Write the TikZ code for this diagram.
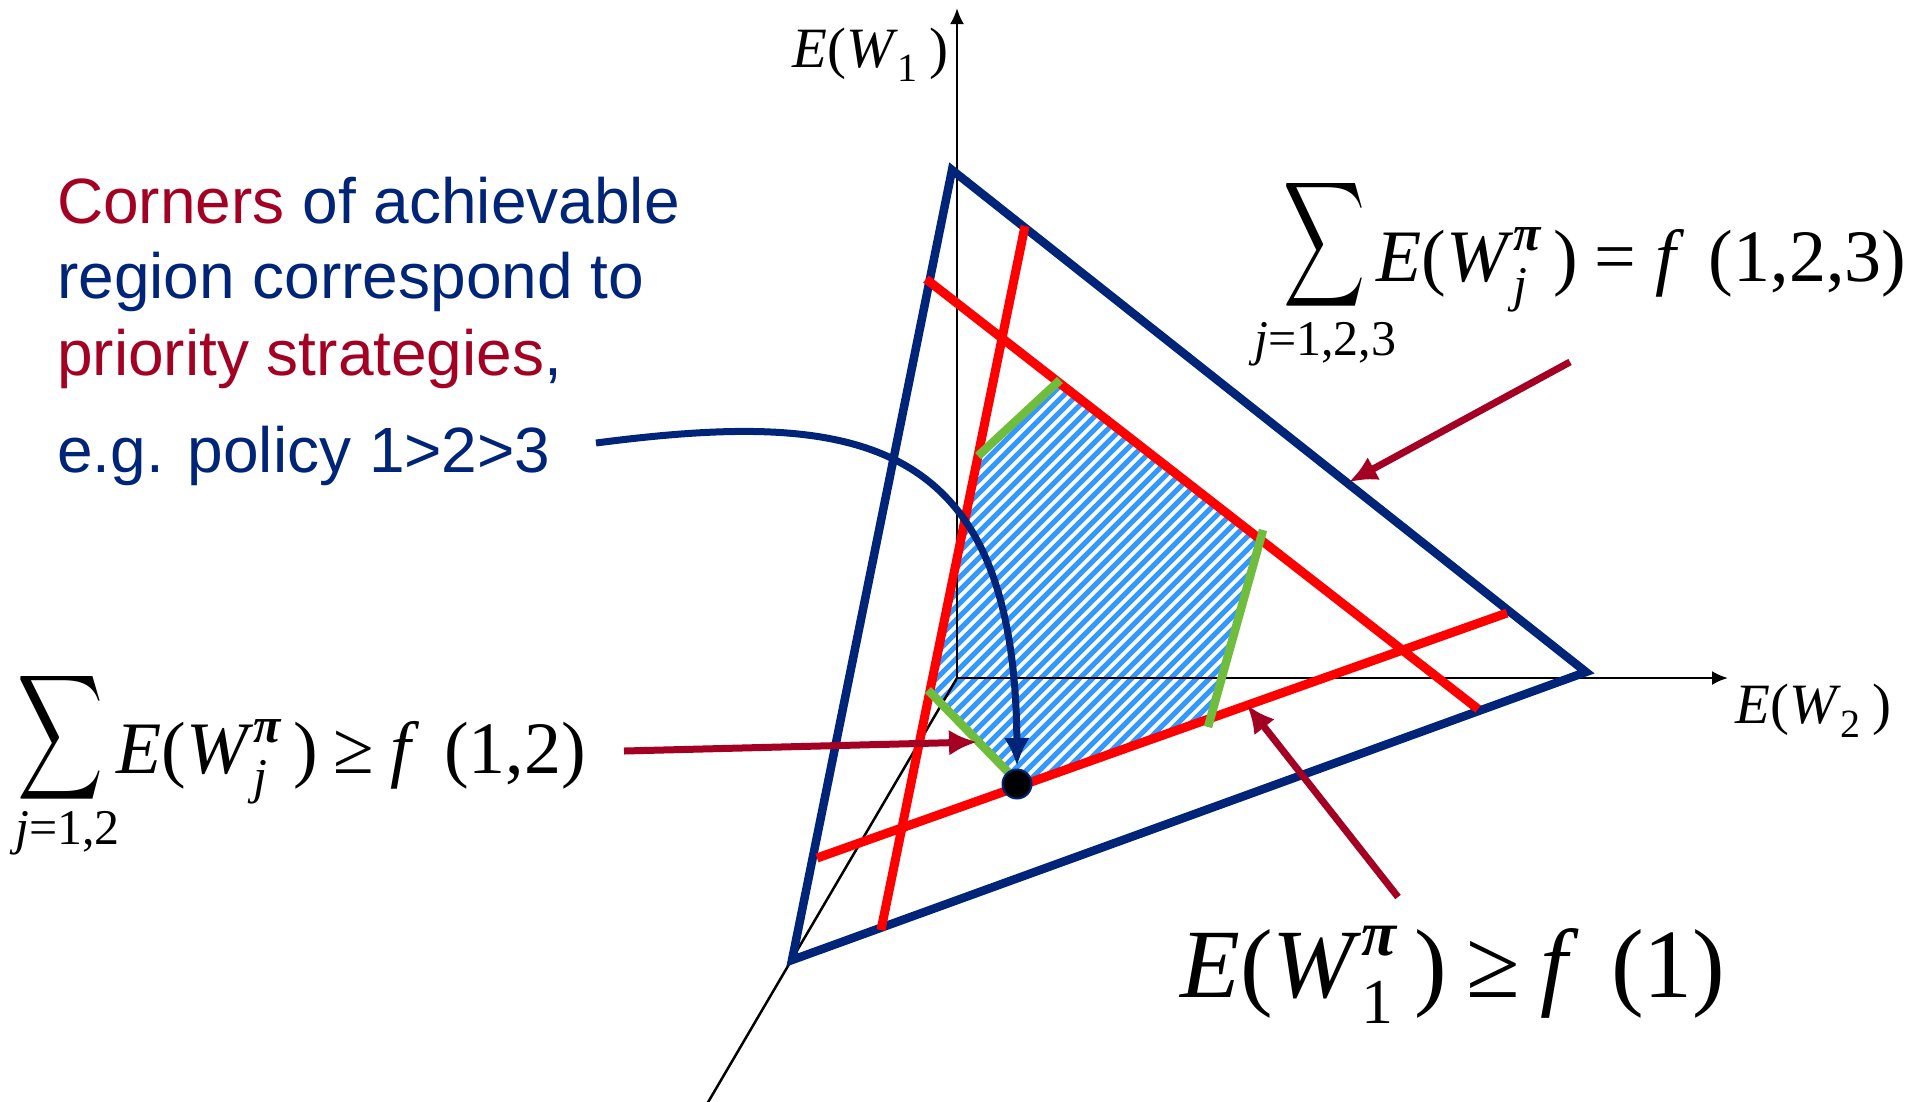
\documentclass[tikz,border=0pt]{standalone}
\usepackage{fontspec}
\setmainfont{Liberation Serif}
\newfontfamily\arialf{Liberation Sans}
\usepackage{graphicx}
\usetikzlibrary{arrows.meta}
\definecolor{navyc}{RGB}{0,36,120}
\definecolor{dredc}{RGB}{163,0,35}
\definecolor{redc}{RGB}{255,0,0}
\definecolor{greenc}{RGB}{112,188,60}
\definecolor{hatchc}{RGB}{51,153,255}
\tikzset{
  axis/.style={black, line width=2.5pt},
  axtip/.style={-{Latex[length=16pt,width=14pt]}},
  tri/.style={navyc, line width=8.5pt, line join=miter},
  redl/.style={redc, line width=9pt},
  greenl/.style={greenc, line width=8.5pt},
  ptr/.style={dredc, line width=7pt, -{Latex[length=28pt,width=26pt]}},
  txt/.style={inner sep=0pt, anchor=base west},
}
\begin{document}
\begin{tikzpicture}[x=1pt,y=-1pt]
\useasboundingbox (0,0) rectangle (1918,1101);
% hatched region
\begin{scope}
\clip (978,456) -- (1060,382) -- (1260,540) -- (1210,719) -- (1017,785) -- (930,690) -- cycle;
\foreach \c in {1420,1433,...,1950} \draw[hatchc, line width=5pt] ({\c-300},300) -- ({\c-850},850);
\end{scope}
\draw[navyc, line width=1.5pt] (978,456) -- (1060,382) -- (1260,540) -- (1210,719) -- (1017,785) -- (930,690) -- cycle;
% axes
\coordinate (O) at (957,678);
\coordinate (Ytip) at (957,8);
\coordinate (Xtip) at (1728,678);
\coordinate (Zend) at (707,1104);
\draw[axis,axtip] (O) -- (Ytip);
\draw[axis,axtip] (O) -- (Xtip);
\draw[axis] (O) -- (Zend);
% triangle
\coordinate (T1) at (952,170);
\coordinate (T2) at (1586,672);
\coordinate (T3) at (792,960);
\draw[tri] (T1) -- (T2) -- (T3) -- cycle;
% red lines
\coordinate (R1a) at (817,858); \coordinate (R1b) at (1507,613);
\coordinate (R2a) at (926,279); \coordinate (R2b) at (1478,709);
\coordinate (R3a) at (1025,226); \coordinate (R3b) at (881,930);
\draw[redl] (R1a) -- (R1b);
\draw[redl] (R2a) -- (R2b);
\draw[redl] (R3a) -- (R3b);
% green segments
\coordinate (G1a) at (978,456); \coordinate (G1b) at (1060,380);
\coordinate (G2a) at (1263,530); \coordinate (G2b) at (1208,727);
\coordinate (G3a) at (928,690); \coordinate (G3b) at (1008,772);
\draw[greenl] (G1a) -- (G1b);
\draw[greenl] (G2a) -- (G2b);
\draw[greenl] (G3a) -- (G3b);
% corner dot
\node[circle, fill=black, draw=navyc, line width=2pt, minimum size=29pt, inner sep=0pt] (dot) at (1017,784) {};
% curved pointer
\coordinate (C0) at (596,443);
\coordinate (C1) at (1017,766);
\draw[navyc, line width=7pt, -{Latex[length=28pt,width=26pt]}] (C0) .. controls (850,410) and (1015,430) .. (C1);
% dark red pointers
\coordinate (P1s) at (1570,362); \coordinate (P1e) at (1349,482);
\coordinate (P2s) at (624,751); \coordinate (P2e) at (977,742);
\coordinate (P3s) at (1398,897); \coordinate (P3e) at (1247,705);
\draw[ptr] (P1s) -- (P1e);
\draw[ptr] (P2s) -- (P2e);
\draw[ptr] (P3s) -- (P3e);
% left text
\begin{scope}[every node/.style={txt, text=navyc, font=\arialf\fontsize{64}{76}\selectfont}]
\node (L1) at (57,223) {{\color{dredc}Corners} of achievable};
\node (L2) at (57,298) {region correspond to};
\node (L3) at (57,375) {{\color{dredc}priority strategies}, };
\node (L4) at (57,472) {e.g. policy 1>2>3};
\end{scope}
% axis labels
\node[txt, font=\fontsize{57}{60}\selectfont] (ax1) at (792,67) {\textit{E}(\textit{W}\raisebox{-14pt}{\fontsize{40}{40}\selectfont 1}\hspace{12pt})};
\node[txt, font=\fontsize{57}{60}\selectfont] (ax2) at (1735,723) {\textit{E}(\textit{W}\raisebox{-14pt}{\fontsize{40}{40}\selectfont 2}\hspace{12pt})};
% sum label left
\node[inner sep=0pt] (S1) at (61,738) {\resizebox{86pt}{92pt}{$\displaystyle\sum$}};
\node[txt, font=\fontsize{50}{50}\selectfont] (S1sub) at (15,844) {\textit{j}=1,2};
\node[txt, font=\fontsize{74}{80}\selectfont] (S1f) at (116,773) {\textit{E}(\textit{W}\rlap{\raisebox{-20pt}{\fontsize{50}{50}\selectfont\textit{j}}}\raisebox{31pt}{\fontsize{50}{50}\selectfont\textbf{\textit{π}}}\,)\hspace{0.2em}≥\hspace{0.22em}\textit{f}\,\,(1,2)};
% sum label right
\node[inner sep=0pt] (S2) at (1324,245) {\resizebox{82pt}{92pt}{$\displaystyle\sum$}};
\node[txt, font=\fontsize{50}{50}\selectfont] (S2sub) at (1254,355) {\textit{j}=1,2,3};
\node[txt, font=\fontsize{74}{80}\selectfont] (S2f) at (1376,281) {\textit{E}(\textit{W}\rlap{\raisebox{-20pt}{\fontsize{50}{50}\selectfont\textit{j}}}\raisebox{31pt}{\fontsize{50}{50}\selectfont\textbf{\textit{π}}}\,)\hspace{0.22em}=\hspace{0.25em}\textit{f}\,\,(1,2,3)};
% bottom label
\node[txt, font=\fontsize{98}{100}\selectfont] (B1) at (1180,997) {\textit{E}(\textit{W}\rlap{\raisebox{-26pt}{\fontsize{64}{64}\selectfont 1}}\raisebox{42pt}{\fontsize{64}{64}\selectfont\textbf{\textit{π}}}\,)\hspace{0.2em}≥\hspace{0.2em}\textit{f}\,\,(1)};
\end{tikzpicture}
\end{document}
